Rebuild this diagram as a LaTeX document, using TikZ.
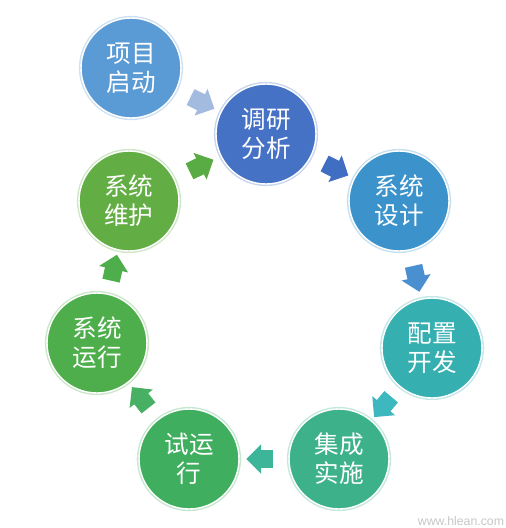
\documentclass[tikz,border=0pt]{standalone}
\usepackage{fontspec}
\newfontfamily\cjk{Noto Sans CJK SC}
\newfontfamily\wmark{Liberation Sans}
\usepackage{tikz}
\usetikzlibrary{shapes.arrows,positioning,calc}
\definecolor{startcol}{HTML}{5B9BD5}
\definecolor{surveycol}{HTML}{4672C6}
\definecolor{designcol}{HTML}{3C93CB}
\definecolor{configcol}{HTML}{36AFB1}
\definecolor{integcol}{HTML}{3DB28A}
\definecolor{trialcol}{HTML}{3FAE5F}
\definecolor{runcol}{HTML}{4DAE4B}
\definecolor{maintcol}{HTML}{63AE44}
\definecolor{arrA}{HTML}{A3BBDF}
\definecolor{arrB}{HTML}{3F6EC3}
\definecolor{arrC}{HTML}{4A8FD0}
\definecolor{arrD}{HTML}{3DB8BE}
\definecolor{arrE}{HTML}{3DB598}
\definecolor{arrF}{HTML}{48B063}
\definecolor{arrG}{HTML}{4DAE4B}
\definecolor{arrH}{HTML}{58AC43}
\tikzset{
  stage/.style={circle,minimum size=2cm,inner sep=0pt,fill=#1,draw=white,line width=0.8pt,
    preaction={draw=#1!30,line width=2.4pt},text=white,align=center,
    font=\cjk\fontsize{14}{16.5}\selectfont},
  flowarr/.style={single arrow,fill=#1,draw=none,inner sep=0.17cm,
    single arrow head extend=0.12cm,sloped,allow upside down},
}

\begin{document}
\begin{tikzpicture}[x=0.02cm,y=-0.02cm]
  \useasboundingbox[fill=white] (0,0) rectangle (505,528);
  % stages
  \node[stage=startcol]  (start)  at (131,68)  {项目\\启动};
  \node[stage=surveycol] (survey) at (266,134) {调研\\分析};
  \node[stage=designcol] (design) at (399,201) {系统\\设计};
  \node[stage=configcol] (config) at (432,348) {配置\\开发};
  \node[stage=integcol]  (integ)  at (339,459) {集成\\实施};
  \node[stage=trialcol]  (trial)  at (189,459) {试运\\行};
  \node[stage=runcol]    (run)    at (97,343)  {系统\\运行};
  \node[stage=maintcol]  (maint)  at (129,201) {系统\\维护};
  % block arrows between stages
  \path (start)  -- node[flowarr=arrA] {} (survey);
  \path (survey) -- node[flowarr=arrB] {} (design);
  \path (design) -- node[flowarr=arrC] {} (config);
  \path (config) -- node[flowarr=arrD] {} (integ);
  \path (integ)  -- node[flowarr=arrE] {} (trial);
  \path (trial)  -- node[flowarr=arrF] {} (run);
  \path (run)    -- node[flowarr=arrG] {} (maint);
  \path (maint)  -- node[flowarr=arrH] {} (survey);
  \node[text=black!22,font=\wmark\fontsize{7}{8}\selectfont,inner sep=0pt] (mark) at (461,521) {www.hlean.com};
\end{tikzpicture}
\end{document}
